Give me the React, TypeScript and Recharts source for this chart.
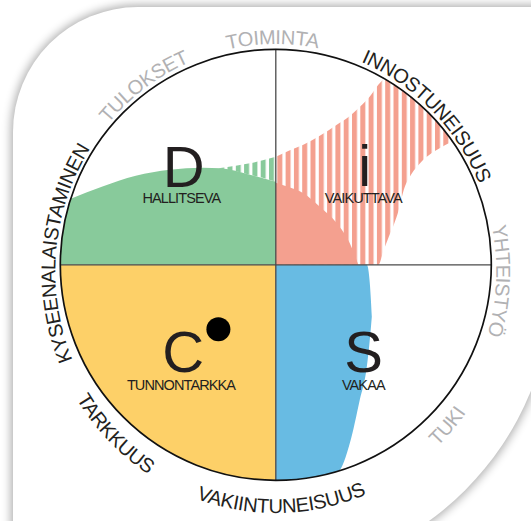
import React from 'react';
import {
  ComposedChart,
  Area,
  XAxis,
  YAxis,
  ReferenceDot,
  ReferenceLine,
  Scatter,
} from 'recharts';

// ---------- data (chart units: pixels relative to circle centre, y up) ----------
const yellowArea = [
  { x: -225, v: [-225, 0] },
  { x: 0, v: [-225, 0] },
];

const blueArea = [
  { x: 0, v: [-225, 0] },
  { x: 40, v: [-215, 0] },
  { x: 62.5, v: [-207, 0] },
  { x: 74, v: [-178.5, 0] },
  { x: 84, v: [-135, 0] },
  { x: 91, v: [-102, 0] },
  { x: 94, v: [-75, -18.5] },
  { x: 96, v: [-52, -52] },
];

const greenArea = [
  { x: -225, v: [0, 58] },
  { x: -205, v: [0, 66] },
  { x: -174, v: [0, 78] },
  { x: -140, v: [0, 89] },
  { x: -106, v: [0, 95] },
  { x: -73, v: [0, 97] },
  { x: -55, v: [0, 96.5] },
  { x: -26, v: [0, 90] },
  { x: 0, v: [0, 83] },
];

const greenStripes = [
  { x: -57, v: [96.4, 96.6] },
  { x: -40, v: [93.5, 99] },
  { x: -26, v: [90, 101.5] },
  { x: -13, v: [87, 104.5] },
  { x: 0, v: [83, 108] },
];

const redStripes = [
  { x: 0, v: [0, 108] },
  { x: 13, v: [0, 114] },
  { x: 27.5, v: [0, 120] },
  { x: 44, v: [0, 129] },
  { x: 61, v: [0, 140] },
  { x: 73, v: [0, 148] },
  { x: 84, v: [0, 158] },
  { x: 93, v: [0, 167] },
  { x: 101, v: [0, 178] },
  { x: 102.5, v: [0, 180] },
  { x: 108, v: [15, 188] },
  { x: 113, v: [28, 240] },
  { x: 118, v: [40, 240] },
  { x: 123, v: [55, 240] },
  { x: 128, v: [75, 240] },
  { x: 134, v: [88, 240] },
  { x: 142, v: [99, 240] },
  { x: 151, v: [108, 240] },
  { x: 163, v: [116, 240] },
  { x: 176, v: [123, 240] },
  { x: 186, v: [128, 240] },
];

const redSolid = [
  { x: 0, v: [0, 82] },
  { x: 13.5, v: [0, 77.5] },
  { x: 27.5, v: [0, 71.5] },
  { x: 44, v: [0, 58] },
  { x: 61, v: [0, 41.5] },
  { x: 74, v: [0, 21.5] },
  { x: 82.5, v: [0, 0] },
];

const profilePoint = [{ x: -57.4, y: -64.5 }];

const quadrantLetters = ['D', 'i', 'C', 'S'];
const quadrantNames = ['HALLITSEVA', 'VAIKUTTAVA', 'TUNNONTARKKA', 'VAKAA'];

const ringLabels = [
  'KYSEENALAISTAMINEN',
  'TULOKSET',
  'TOIMINTA',
  'INNOSTUNEISUUS',
  'YHTEISTYÖ',
  'TUKI',
  'VAKIINTUNEISUUS',
  'TARKKUUS',
];
const ringTones = ['dark', 'grey', 'grey', 'dark', 'grey', 'grey', 'dark', 'dark'];

// ---------- layout ----------
const W = 531;
const H = 521;
const CX = 275.8;
const CY = 264.8;
const R = 215.5;
const X_DOMAIN = [-CX, W - CX];
const Y_DOMAIN = [CY - H, CY];
const px = (x: number) => x + CX;
const py = (y: number) => CY - y;

const ringAngles = [185, 234.5, 269.2, 314.3, 2.4, 41.9, 88.6, 134.8];
const ELL = { cx: 275.8, cy: 271.5, a: 227.5, b: 234.5 };

const letterPos = [
  { x: -92, y: 78.3 },
  { x: 89, y: 78.8 },
  { x: -92.5, y: -106.7 },
  { x: 87.7, y: -106.7 },
];
const namePos = [
  { x: -94.5, y: 62 },
  { x: 87.5, y: 62.2 },
  { x: -94.8, y: -125.2 },
  { x: 87.5, y: -125.2 },
];

const COLORS = {
  green: '#88ca9b',
  red: '#f4a08f',
  yellow: '#fdd068',
  blue: '#68bbe3',
  dark: '#231f20',
  grey: '#b1b1b3',
};
const FONT = '"Liberation Sans", Arial, Helvetica, sans-serif';

function arcPath(t: number, s: number, rx: number, ry: number, cw: boolean) {
  const p = (deg: number) => {
    const r = (deg * Math.PI) / 180;
    return [ELL.cx + rx * Math.cos(r), ELL.cy + ry * Math.sin(r)];
  };
  if (cw) {
    const [x1, y1] = p(t - s);
    const [x2, y2] = p(t + s);
    return `M ${x1} ${y1} A ${rx} ${ry} 0 0 1 ${x2} ${y2}`;
  }
  const [x1, y1] = p(t + s);
  const [x2, y2] = p(t - s);
  return `M ${x1} ${y1} A ${rx} ${ry} 0 0 0 ${x2} ${y2}`;
}

function TextLayer() {
  return (
    <svg
      width={W}
      height={H}
      style={{ position: 'absolute', left: 0, top: 0, pointerEvents: 'none' }}
    >
      <defs>
        {ringLabels.map((_, i) => {
          const t = ringAngles[i];
          const bottom = t > 20 && t < 160;
          const d = bottom
            ? arcPath(t, 75, ELL.a + 7, ELL.b + 7, false)
            : arcPath(t, 75, ELL.a - 7, ELL.b - 7, true);
          return <path key={i} id={`ringPath${i}`} d={d} fill="none" />;
        })}
      </defs>
      {ringLabels.map((label, i) => (
        <text
          key={label}
          fontFamily={FONT}
          fontSize={20}
          letterSpacing={-0.35}
          fill={ringTones[i] === 'dark' ? COLORS.dark : COLORS.grey}
        >
          <textPath href={`#ringPath${i}`} startOffset="50%" textAnchor="middle">
            {label}
          </textPath>
        </text>
      ))}
      {quadrantLetters.map((l, i) => (
        <text
          key={l}
          x={px(letterPos[i].x)}
          y={py(letterPos[i].y)}
          textAnchor="middle"
          fontFamily={FONT}
          fontSize={58}
          fill={COLORS.dark}
        >
          {l}
        </text>
      ))}
      {quadrantNames.map((n, i) => (
        <text
          key={n}
          x={px(namePos[i].x)}
          y={py(namePos[i].y)}
          textAnchor="middle"
          fontFamily={FONT}
          fontSize={14.5}
          letterSpacing={-0.9}
          fill={COLORS.dark}
        >
          {n}
        </text>
      ))}
    </svg>
  );
}

export default function App() {
  return (
    <div
      style={{
        position: 'fixed',
        left: 0,
        top: 0,
        width: W,
        height: H,
        overflow: 'hidden',
        background: '#fff',
      }}
    >
      <div style={{ position: 'absolute', left: 0, top: 0 }}>
        <ComposedChart width={W} height={H} margin={{ top: 0, right: 0, bottom: 0, left: 0 }}>
          <defs>
            <pattern id="redStripe" patternUnits="userSpaceOnUse" x={3.4} y={0} width={8.3} height={10}>
              <rect x={0} y={0} width={5} height={10} fill={COLORS.red} />
            </pattern>
            <pattern id="greenStripe" patternUnits="userSpaceOnUse" x={3.4} y={0} width={8.3} height={10}>
              <rect x={0} y={0} width={5} height={10} fill={COLORS.green} />
            </pattern>
          </defs>
          <XAxis type="number" dataKey="x" domain={X_DOMAIN} allowDataOverflow hide />
          <YAxis type="number" domain={Y_DOMAIN} allowDataOverflow hide />
          <Area data={yellowArea} dataKey="v" type="linear" stroke="none" fill={COLORS.yellow} fillOpacity={1} isAnimationActive={false} dot={false} activeDot={false} />
          <Area data={blueArea} dataKey="v" type="monotone" stroke="none" fill={COLORS.blue} fillOpacity={1} isAnimationActive={false} dot={false} activeDot={false} />
          <Area data={greenArea} dataKey="v" type="monotone" stroke="none" fill={COLORS.green} fillOpacity={1} isAnimationActive={false} dot={false} activeDot={false} />
          <Area data={greenStripes} dataKey="v" type="monotone" stroke="none" fill="url(#greenStripe)" fillOpacity={1} isAnimationActive={false} dot={false} activeDot={false} />
          <Area data={redStripes} dataKey="v" type="monotone" stroke="none" fill="url(#redStripe)" fillOpacity={1} isAnimationActive={false} dot={false} activeDot={false} />
          <Area data={redSolid} dataKey="v" type="monotone" stroke="none" fill={COLORS.red} fillOpacity={1} isAnimationActive={false} dot={false} activeDot={false} />
          <ReferenceDot x={0} y={0} r={R + 60} fill="none" stroke="#ffffff" strokeWidth={120} />
          <ReferenceLine segment={[{ x: 0, y: -R }, { x: 0, y: R }]} stroke="#4a4a4a" strokeWidth={1.3} />
          <ReferenceLine segment={[{ x: -R, y: 0 }, { x: R, y: 0 }]} stroke="#4a4a4a" strokeWidth={1.3} />
          <ReferenceDot x={0} y={0} r={R} fill="none" stroke="#111111" strokeWidth={1.7} />
          <Scatter
            data={profilePoint}
            dataKey="y"
            isAnimationActive={false}
            shape={(p: any) => <circle cx={p.cx} cy={p.cy} r={12} fill="#000" />}
          />
        </ComposedChart>
      </div>
      <TextLayer />
      <div
        style={{
          position: 'absolute',
          left: 13,
          top: 7,
          width: 540,
          height: 571,
          borderRadius: '125px 0 300px 0',
          boxShadow: '0 0 10px 2px rgba(0,0,0,0.33)',
          pointerEvents: 'none',
        }}
      />
    </div>
  );
}
